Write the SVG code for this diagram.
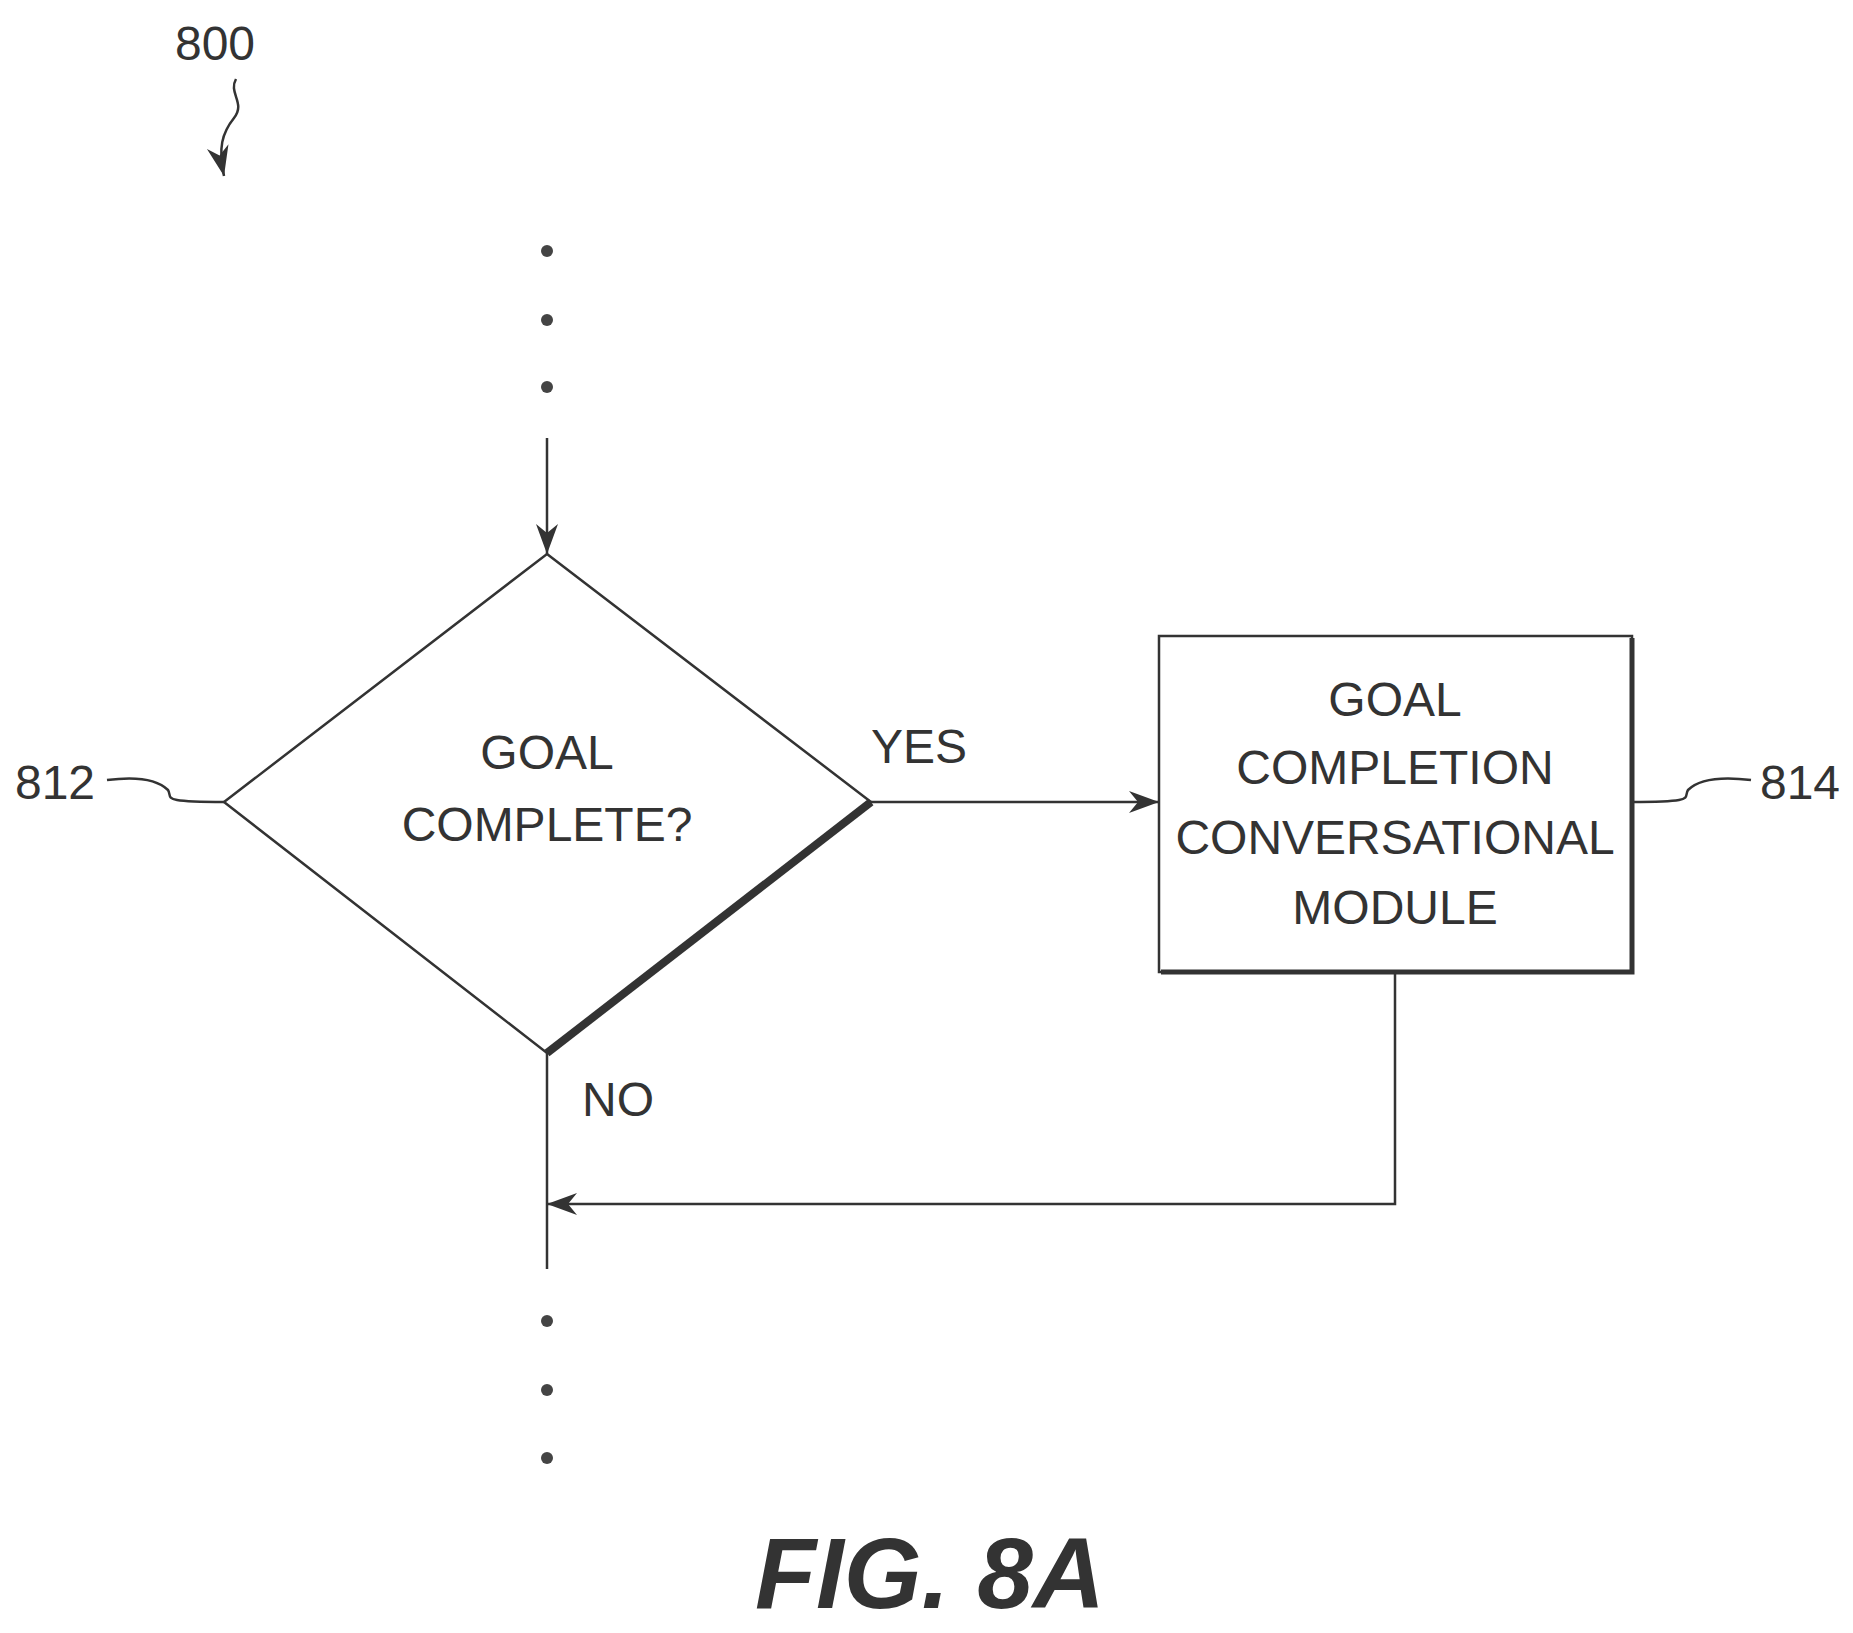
<svg xmlns="http://www.w3.org/2000/svg" width="1853" height="1633" viewBox="0 0 1853 1633">
<style>
.l{stroke:#333;stroke-width:2.5;fill:none}
.t{font-family:"Liberation Sans",Arial,sans-serif;font-size:48px;fill:#333;text-anchor:middle}
.d{fill:#444}
</style>
<defs>
<marker id="a" viewBox="0 0 30 24" refX="30" refY="12" markerWidth="30" markerHeight="24" markerUnits="userSpaceOnUse" orient="auto"><path d="M0,1 L30,12 L0,23 L9,12 Z" fill="#333"/></marker>
</defs>
<rect width="1853" height="1633" fill="#fff"/>
<g id="dots">
<circle class="d" cx="547" cy="251" r="6"/><circle class="d" cx="547" cy="320" r="6"/><circle class="d" cx="547" cy="387" r="6"/>
<circle class="d" cx="547" cy="1321" r="6"/><circle class="d" cx="547" cy="1390" r="6"/><circle class="d" cx="547" cy="1458" r="6"/>
</g>
<g id="n812">
<path class="l" d="M547,554 L871,802 L547,1053 L224,802 Z"/>
<path d="M871,802 L547,1053" stroke="#333" stroke-width="8" fill="none"/>
<text class="t" x="547" y="769">GOAL</text>
<text class="t" x="547" y="841">COMPLETE?</text>
</g>
<g id="n814">
<rect class="l" x="1159" y="636" width="473" height="336"/>
<path d="M1632,638 V972 H1161" stroke="#333" stroke-width="5" fill="none"/>
<text class="t" x="1395" y="716">GOAL</text>
<text class="t" x="1395" y="784">COMPLETION</text>
<text class="t" x="1395" y="854">CONVERSATIONAL</text>
<text class="t" x="1395" y="924">MODULE</text>
</g>
<g id="connectors">
<path class="l" d="M547,438 V554" marker-end="url(#a)"/>
<path class="l" d="M871,802 H1159" marker-end="url(#a)"/>
<path class="l" d="M1395,972 V1204 H547" marker-end="url(#a)"/>
<path class="l" d="M547,1053 V1269"/>
<path class="l" d="M107,780 C138,776 158,780 168,790 C173,798 158,802 224,802"/>
<path class="l" d="M1751,780 C1718,776 1698,780 1688,790 C1683,798 1698,802 1632,802"/>
<path class="l" d="M236,79 C228,93 246,103 234,118 C222,133 218,148 224,176" marker-end="url(#a)"/>
</g>
<g id="labels">
<text class="t" x="919" y="763">YES</text>
<text class="t" x="618" y="1116">NO</text>
<text class="t" x="55" y="799">812</text>
<text class="t" x="1800" y="799">814</text>
<text class="t" x="215" y="60">800</text>
<text x="930" y="1608" style="font-family:'Liberation Sans',Arial,sans-serif;font-size:100px;font-weight:bold;font-style:italic;fill:#333;text-anchor:middle">FIG. 8A</text>
</g>
</svg>
